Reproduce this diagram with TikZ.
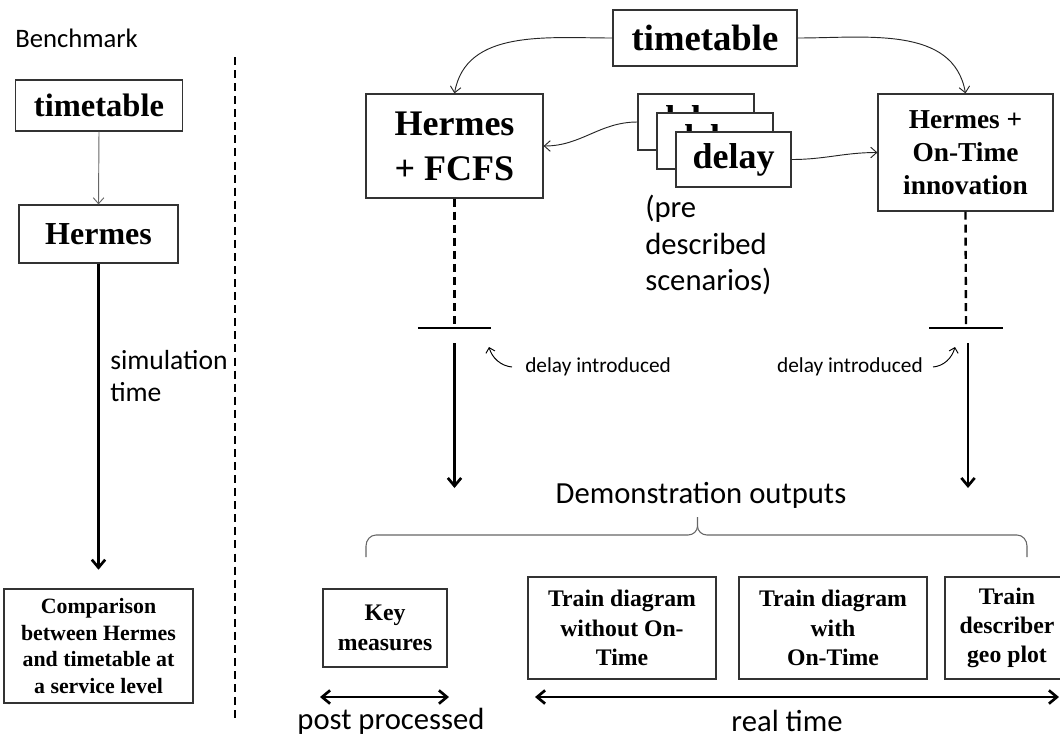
\documentclass[tikz,border=0pt]{standalone}
\usepackage{fontspec}
\setmainfont{Liberation Serif}
\newfontfamily\calibfont{Carlito}
\usetikzlibrary{arrows.meta}
\begin{document}
\begin{tikzpicture}[x=0.75pt,y=-0.75pt,
  box/.style={draw=black!80, line width=0.9pt, fill=white, inner sep=0pt, align=center},
  thinarrow/.style={-{Straight Barb[length=4.5pt,width=8pt]}, line width=0.7pt, draw=black!85},
  bigarrow/.style={-{Straight Barb[length=6pt,width=10pt]}, line width=2pt},
  dblarrow/.style={{Straight Barb[length=6pt,width=10pt]}-{Straight Barb[length=6pt,width=10pt]}, line width=2pt},
  dashline/.style={line width=2pt, dash pattern=on 6pt off 3.8pt},
  barline/.style={line width=2.2pt},
]
\useasboundingbox (0,0) rectangle (1060,740);

% ---------- left: benchmark ----------
\node[anchor=west, inner sep=0pt, font=\calibfont\fontsize{20}{24}\selectfont] (bench) at (15,38) {Benchmark};
\node[box, minimum width=125.25pt, minimum height=38.25pt, font=\bfseries\fontsize{24.4}{29}\selectfont] (ltt) at (99,105.5) {timetable};
\node[box, minimum width=119.25pt, minimum height=43.5pt, font=\bfseries\fontsize{24}{29}\selectfont] (lherm) at (98.5,234) {Hermes};
\node[box, minimum width=141.75pt, minimum height=85.5pt, font=\bfseries\fontsize{16.4}{20}\selectfont] (comp) at (98.5,646) {Comparison\\between Hermes\\and timetable at\\a service level};
\draw[thinarrow, draw=black!60] (ltt.south) -- (lherm.north);
\draw[bigarrow, shorten >=14pt] (lherm.south) -- (comp.north);
\node[anchor=west, align=left, inner sep=0pt, font=\calibfont\fontsize{20.7}{24}\selectfont] (simt) at (110,376) {simulation\\time};

% separator
\coordinate (sepT) at (235,57);
\coordinate (sepB) at (235,722);
\draw[dashline] (sepT) -- (sepB);

% ---------- right: top ----------
\node[box, minimum width=138pt, minimum height=42pt, font=\bfseries\fontsize{27.5}{33}\selectfont] (ttop) at (705,38) {timetable};
\node[box, minimum width=132.75pt, minimum height=78pt, font=\bfseries\fontsize{27}{33.75}\selectfont] (fcfs) at (454.5,146) {Hermes\\+ FCFS};
\node[box, minimum width=131.25pt, minimum height=87.75pt, font=\bfseries\fontsize{20.5}{24.75}\selectfont] (ontime) at (965.5,152.5) {Hermes +\\On-Time\\innovation};

\node[box, minimum width=87pt, minimum height=42pt, font=\bfseries\fontsize{27}{33}\selectfont] (d1) at (696,122) {delay};
\node[box, minimum width=87pt, minimum height=42pt, font=\bfseries\fontsize{27}{33}\selectfont] (d2) at (715,141) {delay};
\node[box, minimum width=86.25pt, minimum height=41.25pt, font=\bfseries\fontsize{27}{33}\selectfont] (d3) at (733.5,159.5) {delay};
\node[anchor=west, align=left, inner sep=0pt, font=\calibfont\fontsize{23}{27.5}\selectfont] (scen) at (645,245) {(pre\\described\\scenarios)};

\draw[thinarrow] (ttop.west) to[out=180,in=80] (fcfs.north);
\draw[thinarrow] (ttop.east) to[out=0,in=100] (ontime.north);
\draw[thinarrow] (d1.west) to[out=180,in=0] (fcfs.east);
\draw[thinarrow] (d3.east) to[out=0,in=180] (ontime.west);

% ---------- delay introduction ----------
\coordinate (barL) at (454.5,328);
\coordinate (barR) at (966,328);
\draw[dashline, line width=1.8pt] (fcfs.south) -- (barL);
\draw[dashline, line width=1.8pt] (ontime.south) -- (barR);
\draw[barline] ([xshift=-27.4pt]barL) -- ([xshift=27.4pt]barL);
\draw[barline] ([xshift=-27.7pt]barR) -- ([xshift=27.7pt]barR);

\coordinate (aLs) at (454.5,343);
\coordinate (aLe) at (454.5,488);
\coordinate (aRs) at (968,343);
\coordinate (aRe) at (968,488);
\draw[bigarrow] (aLs) -- (aLe);
\draw[bigarrow] (aRs) -- (aRe);

\node[anchor=west, inner sep=0pt, font=\calibfont\fontsize{16}{19}\selectfont] (diL) at (525,367) {delay introduced};
\node[anchor=east, inner sep=0pt, font=\calibfont\fontsize{16}{19}\selectfont] (diR) at (923,367) {delay introduced};
\coordinate (cLs) at (512,367);
\coordinate (cLe) at (489,347);
\coordinate (cRs) at (933,367);
\coordinate (cRe) at (955,347);
\draw[-{Straight Barb[length=3.5pt,width=7pt]}, line width=0.7pt] (cLs) .. controls (501,366) and (492,358) .. (cLe);
\draw[-{Straight Barb[length=3.5pt,width=7pt]}, line width=0.7pt] (cRs) .. controls (944,366) and (952,358) .. (cRe);

% ---------- outputs ----------
\node[font=\calibfont\fontsize{23}{27}\selectfont, inner sep=0pt] (demo) at (701,495) {Demonstration outputs};
\draw[draw=black!60, line width=0.8pt] (366,557) -- (366,546) to[out=90,in=180] (376,535) -- (688,535) to[out=0,in=-90] (697.5,526) -- (697.5,517);
\draw[draw=black!60, line width=0.8pt] (697.5,526) to[out=-90,in=180] (707,535) -- (1017,535) to[out=0,in=90] (1027,546) -- (1027,557);

\node[box, minimum width=93pt, minimum height=58.5pt, font=\bfseries\fontsize{17.8}{22}\selectfont] (key) at (385,628) {Key\\measures};
\node[box, minimum width=141pt, minimum height=76.5pt, font=\bfseries\fontsize{17.8}{22}\selectfont] (tdw) at (622,628) {Train diagram\\without On-\\Time};
\node[box, minimum width=141pt, minimum height=76.5pt, font=\bfseries\fontsize{17.8}{22}\selectfont] (tdo) at (833,628) {Train diagram\\with\\On-Time};
\node[box, minimum width=93pt, minimum height=76.5pt, font=\bfseries\fontsize{17.8}{22}\selectfont] (tdg) at (1007,628) {Train\\describer\\geo plot};

\coordinate (ppL) at (320,697);
\coordinate (ppR) at (449,697);
\coordinate (rtL) at (535,697);
\coordinate (rtR) at (1059,697);
\draw[dblarrow] (ppL) -- (ppR);
\draw[dblarrow] (rtL) -- (rtR);
\node[font=\calibfont\fontsize{23}{27}\selectfont, inner sep=0pt] (pp) at (391,721) {post processed};
\node[font=\calibfont\fontsize{23}{27}\selectfont, inner sep=0pt] (rt) at (787,721) {real time};
\end{tikzpicture}
\end{document}
